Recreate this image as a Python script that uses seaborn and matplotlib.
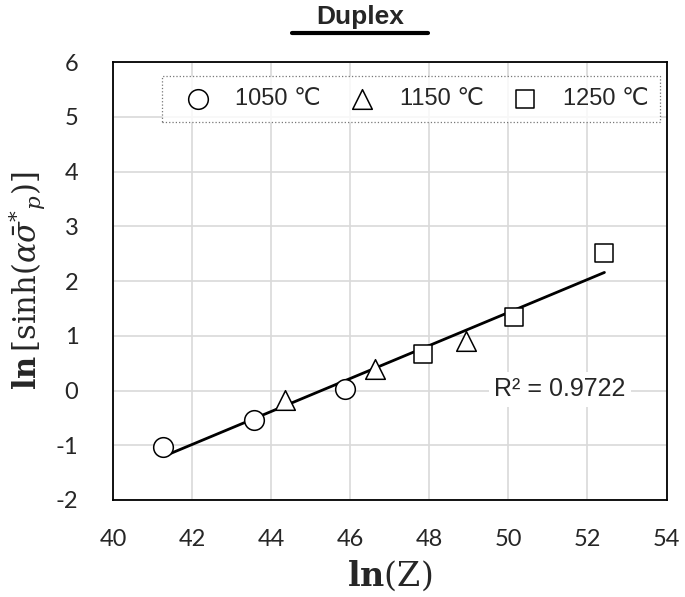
import numpy as np
import pandas as pd
import matplotlib.pyplot as plt
import seaborn as sns

# data
temps = ["1050 \u2103", "1150 \u2103", "1250 \u2103"]
lnz_1050 = [41.26, 43.57, 45.88]
lns_1050 = [-1.03, -0.54, 0.02]
lnz_1150 = [44.34, 46.63, 48.93]
lns_1150 = [-0.17, 0.39, 0.90]
lnz_1250 = [47.84, 50.14, 52.43]
lns_1250 = [0.67, 1.34, 2.51]
r2_label = "R\u00b2 = 0.9722"

df = pd.DataFrame({
    "lnZ": lnz_1050 + lnz_1150 + lnz_1250,
    "lns": lns_1050 + lns_1150 + lns_1250,
    "temp": [temps[0]] * 3 + [temps[1]] * 3 + [temps[2]] * 3,
})

sns.set_style("white")
plt.rcParams['font.family'] = ['Liberation Sans', 'DejaVu Sans']
plt.rcParams['mathtext.fontset'] = 'dejavuserif'
plt.rcParams['axes.unicode_minus'] = False

fig = plt.figure(figsize=(6.85, 5.97), dpi=100)
ax = fig.add_axes([0.165, 0.1625, 0.808, 0.7335])

# linear trendline over all points
sns.regplot(data=df, x="lnZ", y="lns", scatter=False, ci=None,
            line_kws={"color": "black", "lw": 2}, ax=ax)

markers = {temps[0]: "o", temps[1]: "^", temps[2]: "s"}
sizes = {temps[0]: 200, temps[1]: 200, temps[2]: 180}
for t in temps:
    sub = df[df["temp"] == t]
    sns.scatterplot(data=sub, x="lnZ", y="lns", marker=markers[t], s=sizes[t],
                    facecolor="white", edgecolor="black", linewidth=1.1,
                    label=t, ax=ax, zorder=3)

ax.set_xlim(40, 54)
ax.set_ylim(-2, 6)
ax.set_xticks(range(40, 55, 2))
ax.set_yticks(range(-2, 7))
ax.grid(True, color="#d9d9d9", lw=1.2)
ax.set_axisbelow(True)
for s in ax.spines.values():
    s.set_color("black")
    s.set_linewidth(1.3)
ax.tick_params(axis="x", length=0, labelsize=17, pad=21)
ax.tick_params(axis="y", length=0, labelsize=17, pad=25)
for lab in ax.get_xticklabels() + ax.get_yticklabels():
    lab.set_family(['Lato', 'DejaVu Sans'])

ax.set_xlabel(r"$\mathbf{ln}(\mathrm{Z})$", fontsize=24, labelpad=6)
ax.set_ylabel(r"$\mathbf{ln}\,[\mathrm{sinh}(\alpha\bar{\sigma}^{*}{}_{p})]$",
              fontsize=22, labelpad=6)

ax.text(51.3, 0.02, r2_label, fontsize=18, ha="center", va="center",
        bbox=dict(facecolor="white", edgecolor="none", pad=4))

leg = ax.legend(loc="center", ncol=3, fontsize=17, frameon=True,
                bbox_to_anchor=(0.089, 0.861, 0.9, 0.109), mode="expand",
                borderpad=0.5, handletextpad=0.6, columnspacing=1.0,
                markerscale=1.0, fancybox=False, borderaxespad=0)
leg.get_frame().set_edgecolor("#555555")
leg.get_frame().set_linestyle(":")
leg.get_frame().set_linewidth(0.9)

fig.text(360 / 685, 1 - 17 / 597, "Duplex", fontsize=19, fontweight="bold",
         ha="center", va="center")
fig.add_artist(plt.Line2D([292 / 685, 428 / 685], [1 - 33 / 597, 1 - 33 / 597],
                          color="black", lw=3))

fig.savefig("out.png", dpi=100)
